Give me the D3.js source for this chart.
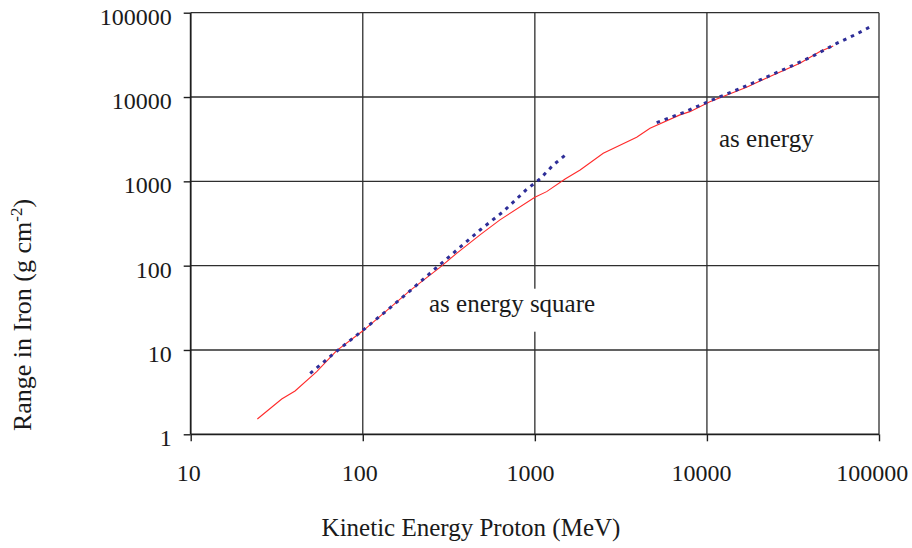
<!DOCTYPE html>
<html><head><meta charset="utf-8">
<script src="https://cdn.jsdelivr.net/npm/d3@7"></script>
<style>
body{margin:0;background:#fff}
svg{display:block}
text{font-family:"Liberation Serif","Times New Roman",serif;fill:#1a1a1a}
</style>
</head><body>
<svg id="c" width="912" height="548"></svg>
<script>
// ---- data ----
const rangeEnergy = [24.4, 33.8, 40.4, 54, 70.5, 100.7, 137.7, 188, 281, 351, 480, 627, 1000, 1171, 1499, 1833, 2497, 3905, 4670, 6970, 7960, 10400, 17000, 24300, 34700, 45400, 54200];
const rangeIron   = [1.52, 2.62, 3.26, 5.53, 9.84, 17, 29.3, 50.6, 95.5, 140, 232, 349, 648, 755, 1068, 1365, 2155, 3338, 4266, 6140, 6710, 8810, 13060, 18300, 25200, 34600, 40400];

const squareEnergy = [49.5, 68.1, 100.7, 137.7, 186, 242, 321, 480, 655, 885, 1071, 1281, 1531];
const squareRange  = [5.29, 9.14, 17.3, 29.3, 49.2, 79, 130, 265, 437, 784, 1068, 1567, 2114];

const linearEnergy = [5105, 7280, 10180, 14560, 20360, 29100, 40740, 57100, 72400, 91800];
const linearRange  = [4970, 6530, 8820, 11900, 15970, 21980, 30130, 43500, 54600, 70300];

const xTicks = [10, 100, 1000, 10000, 100000];
const yTicks = [1, 10, 100, 1000, 10000, 100000];

const xTitle = "Kinetic Energy Proton (MeV)";
const yTitleMain = "Range in Iron (g cm";
const yTitleSup = "-2";
const yTitleEnd = ")";
const noteSquare = "as energy square";
const noteLinear = "as energy";

// ---- layout ----
const L = 190.7, R = 879, T = 12.7, B = 434.3;
const svg = d3.select("#c");
const x = d3.scaleLog().domain([10, 100000]).range([L, R]);
const y = d3.scaleLog().domain([1, 100000]).range([B, T]);

// grid
const grid = svg.append("g");
grid.selectAll("line.h").data(yTicks).join("line")
  .attr("x1", L).attr("x2", R).attr("y1", d => y(d)).attr("y2", d => y(d))
  .attr("stroke", d => d === 1 ? "#1e1e1e" : "#2e2e2e")
  .attr("stroke-width", d => d === 1 ? 1.8 : 1.3);
grid.selectAll("line.v").data(xTicks).join("line")
  .attr("y1", T).attr("y2", B).attr("x1", d => x(d)).attr("x2", d => x(d))
  .attr("stroke", d => d === 10 ? "#1e1e1e" : "#2e2e2e")
  .attr("stroke-width", d => d === 10 ? 1.8 : 1.3);

// axes
const gx = svg.append("g").attr("transform", `translate(0,${B})`)
  .call(d3.axisBottom(x).tickValues(xTicks).tickSize(7).tickSizeOuter(0).tickFormat(d => String(d)));
gx.select(".domain").remove();
gx.selectAll(".tick line").attr("stroke", "#1e1e1e").attr("stroke-width", 1.4);
gx.selectAll(".tick text")
  .attr("y", 47).attr("dy", null)
  .attr("dx", d => -1.2 * String(d).length)
  .style("font-size", "24px").attr("fill", "#1a1a1a");

const gy = svg.append("g").attr("transform", `translate(${L},0)`)
  .call(d3.axisLeft(y).tickValues(yTicks).tickSize(7).tickSizeOuter(0).tickFormat(d => String(d)));
gy.select(".domain").remove();
gy.selectAll(".tick line").attr("stroke", "#1e1e1e").attr("stroke-width", 1.4);
gy.selectAll(".tick text")
  .attr("x", -19)
  .attr("dy", null).attr("y", 11.5)
  .style("font-size", "24px").attr("fill", "#1a1a1a");

// series
const line = d3.line().x(d => x(d[0])).y(d => y(d[1]));
svg.append("path")
  .datum(rangeEnergy.map((e, i) => [e, rangeIron[i]]))
  .attr("d", line).attr("fill", "none")
  .attr("stroke", "#ff2a2a").attr("stroke-width", 1.1);
svg.append("path")
  .datum(squareEnergy.map((e, i) => [e, squareRange[i]]))
  .attr("d", line).attr("fill", "none")
  .attr("stroke", "#2e2e98").attr("stroke-width", 3).attr("stroke-dasharray", "3.5,5");
svg.append("path")
  .datum(linearEnergy.map((e, i) => [e, linearRange[i]]))
  .attr("d", line).attr("fill", "none")
  .attr("stroke", "#2e2e98").attr("stroke-width", 3).attr("stroke-dasharray", "3.5,5");

// annotations with white boxes
function note(txt, px, py, size) {
  const g = svg.append("g");
  const t = g.append("text").attr("x", px).attr("y", py).style("font-size", size + "px").text(txt);
  const bb = t.node().getBBox();
  g.insert("rect", "text").attr("x", bb.x - 8).attr("y", bb.y - 1)
    .attr("width", bb.width + 16).attr("height", bb.height + 16).attr("fill", "#fff");
}
note(noteSquare, 429, 311.7, 25);
note(noteLinear, 719, 146.7, 25);

// axis titles
svg.append("text").attr("x", 471).attr("y", 536).attr("text-anchor", "middle")
  .style("font-size", "25px").text(xTitle);
const yt = svg.append("text").attr("text-anchor", "middle")
  .attr("transform", "translate(31,315) rotate(-90)").style("font-size", "26px");
yt.append("tspan").text(yTitleMain);
yt.append("tspan").attr("dy", -9).style("font-size", "17px").text(yTitleSup);
yt.append("tspan").attr("dy", 9).text(yTitleEnd);
</script>
</body></html>
